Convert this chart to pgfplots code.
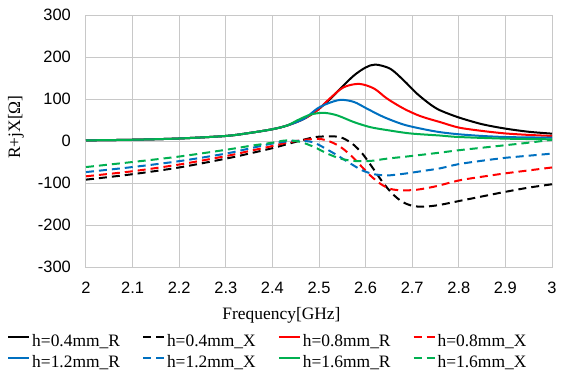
\documentclass[border=0pt]{standalone}
\usepackage{fontspec}
\setmainfont{Liberation Serif}
\newfontfamily\sansf{Liberation Sans}
\usepackage{pgfplots}
\pgfplotsset{compat=1.18}
\definecolor{gridgray}{RGB}{200,200,200}
\definecolor{xred}{RGB}{255,0,0}
\definecolor{xblue}{RGB}{0,112,192}
\definecolor{xgreen}{RGB}{0,176,80}
\begin{document}
\begin{tikzpicture}[font=\fontsize{17.5}{21}\selectfont]
\begin{axis}[
  at={(0,0)}, anchor=south west,
  scale only axis, width=466bp, height=252bp,
  xmin=2, xmax=3, ymin=-300, ymax=300,
  xtick={2,2.1,...,3.01}, ytick={-300,-200,...,300},
  xticklabels={2,2.1,2.2,2.3,2.4,2.5,2.6,2.7,2.8,2.9,3},
  /pgf/number format/assume math mode=true,
  major tick length=0pt,
  grid=major,
  major grid style={draw=gridgray, line width=1bp},
  axis line style={draw=gridgray, line width=1bp},
  tick label style={font=\sansf\fontsize{16.5}{19}\selectfont, inner sep=0pt},
  yticklabel style={anchor=east, xshift=-15bp},
  xticklabel style={anchor=north, yshift=-15bp},
  xlabel={Frequency[GHz]},
  ylabel={R+jX[Ω]},
  every axis x label/.style={at={(axis description cs:0.4195,-0.2103)}, anchor=base},
  every axis y label/.style={at={(axis description cs:-0.1502,0.5556)}, anchor=center, rotate=90},
  legend columns=4,
  legend cell align=left,
  legend style={at={(axis description cs:-0.1695,-0.2659)}, anchor=north west,
    draw=none, fill=none, inner sep=0pt,
    nodes={inner sep=0pt, text height=12bp, text depth=3bp},
    row sep=6bp,
    /tikz/every odd column/.append style={column sep=2bp},
    /tikz/every even column/.append style={column sep=22bp},
    font=\fontsize{17.5}{21}\selectfont},
  legend image code/.code={\draw[#1] (0bp,4.5bp) -- (21bp,4.5bp);},
  every axis plot/.append style={line width=2bp, smooth},
  rdash/.style={dash pattern=on 8bp off 5bp},
]
% h=0.4mm R
\addplot[black] coordinates {(2.0,1.5) (2.1,3) (2.2,6) (2.3,12) (2.35,19) (2.4,28) (2.432,37) (2.468,53) (2.496,73) (2.525,101) (2.546,125) (2.575,156) (2.6,175) (2.621,182) (2.653,172) (2.682,144) (2.71,113) (2.739,87) (2.76,73) (2.8,56) (2.85,40) (2.9,29.5) (2.95,22) (3.0,17.5)};
\addlegendentry{h=0.4mm\_R}
% h=0.4mm X
\addplot[black, rdash] coordinates {(2.0,-92) (2.1,-79) (2.2,-63) (2.3,-42) (2.35,-30) (2.4,-17) (2.45,-2) (2.49,9) (2.52,11) (2.546,9) (2.571,-6) (2.593,-30) (2.614,-62) (2.636,-97) (2.657,-125) (2.679,-145) (2.703,-155) (2.73,-156) (2.76,-152) (2.8,-143) (2.85,-132) (2.9,-121) (2.95,-111) (3.0,-103)};
\addlegendentry{h=0.4mm\_X}
% h=0.8mm R
\addplot[xred] coordinates {(2.0,1.5) (2.1,3) (2.2,6) (2.3,12) (2.35,19) (2.4,28) (2.432,37) (2.468,53) (2.496,73) (2.525,103) (2.553,128) (2.586,136) (2.618,125) (2.646,101) (2.682,77) (2.718,59) (2.76,45) (2.8,32) (2.85,24) (2.9,18) (2.95,14.5) (3.0,12)};
\addlegendentry{h=0.8mm\_R}
% h=0.8mm X
\addplot[xred, rdash] coordinates {(2.0,-84) (2.1,-72) (2.2,-56) (2.3,-36) (2.35,-24) (2.4,-12) (2.44,-2) (2.48,4) (2.505,4.5) (2.525,-2) (2.546,-14) (2.568,-34) (2.589,-58) (2.61,-82) (2.632,-102) (2.653,-114) (2.678,-117.5) (2.71,-116) (2.75,-108) (2.8,-94) (2.85,-85) (2.9,-77) (2.95,-70) (3.0,-63)};
\addlegendentry{h=0.8mm\_X}
% h=1.2mm R
\addplot[xblue] coordinates {(2.0,1.5) (2.1,3) (2.2,6) (2.3,12) (2.35,19) (2.4,28) (2.432,37) (2.468,53) (2.496,77) (2.518,89) (2.546,98) (2.575,93) (2.603,77) (2.639,57) (2.682,39) (2.725,28) (2.76,21) (2.8,16) (2.85,12) (2.9,9.5) (2.95,8.5) (3.0,8)};
\addlegendentry{h=1.2mm\_R}
% h=1.2mm X
\addplot[xblue, rdash] coordinates {(2.0,-74) (2.1,-62) (2.2,-48) (2.3,-30) (2.35,-18) (2.4,-6) (2.44,0) (2.47,0) (2.49,-4) (2.514,-18) (2.539,-34) (2.568,-54) (2.593,-70) (2.618,-79) (2.646,-82) (2.682,-78) (2.725,-71) (2.76,-65) (2.8,-55) (2.85,-47) (2.9,-40) (2.95,-35) (3.0,-30)};
\addlegendentry{h=1.2mm\_X}
% h=1.6mm R
\addplot[xgreen] coordinates {(2.0,1.5) (2.1,3) (2.2,6) (2.3,12) (2.35,19) (2.4,28) (2.432,37) (2.453,49) (2.482,63) (2.511,67) (2.539,61) (2.575,45) (2.61,33) (2.646,26) (2.696,18) (2.76,13) (2.8,9.5) (2.9,5.6) (3.0,4)};
\addlegendentry{h=1.6mm\_R}
% h=1.6mm X
\addplot[xgreen, rdash] coordinates {(2.0,-62) (2.1,-50) (2.2,-37) (2.3,-21) (2.35,-12) (2.4,-4) (2.425,1) (2.44,1) (2.46,-2) (2.489,-14) (2.518,-30) (2.546,-42) (2.575,-47.5) (2.61,-47.5) (2.646,-42) (2.696,-36) (2.757,-28) (2.8,-22) (2.85,-16) (2.9,-10) (2.95,-4) (3.0,3)};
\addlegendentry{h=1.6mm\_X}
\end{axis}
\pgfresetboundingbox
\path[use as bounding box] (-86bp,-104bp) rectangle (476bp,267bp);
\end{tikzpicture}
\end{document}
